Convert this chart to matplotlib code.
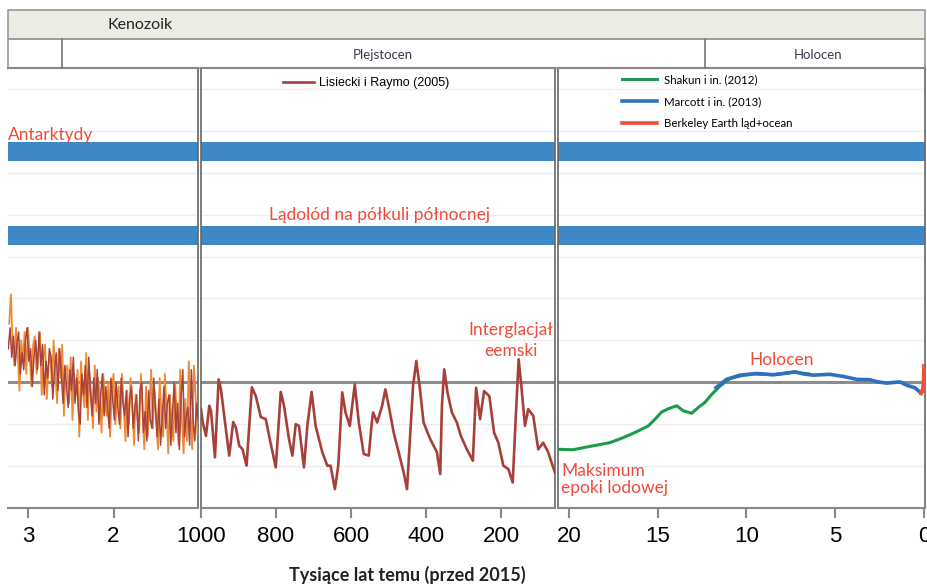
import numpy as np
import matplotlib.pyplot as plt
from matplotlib.patches import Rectangle

# ---- dane ----
# panel 1 (miliony lat temu)
p1_brown_myr = [3.23, 3.21, 3.19, 3.17, 3.15, 3.13, 3.11, 3.09, 3.07, 3.05,
                3.03, 3.01, 2.99, 2.97, 2.95, 2.93, 2.91, 2.89, 2.87, 2.85,
                2.83, 2.81, 2.79, 2.77, 2.75, 2.73, 2.71, 2.69, 2.67, 2.65,
                2.63, 2.61, 2.59, 2.57, 2.55, 2.53, 2.51, 2.49, 2.47, 2.45,
                2.43, 2.41, 2.39, 2.37, 2.35, 2.33, 2.31, 2.29, 2.27, 2.25,
                2.23, 2.21, 2.19, 2.17, 2.15, 2.13, 2.11, 2.09, 2.07, 2.05,
                2.03, 2.01, 1.99, 1.97, 1.95, 1.93, 1.91, 1.89, 1.87, 1.85,
                1.83, 1.81, 1.79, 1.77, 1.75, 1.73, 1.71, 1.69, 1.67, 1.65,
                1.63, 1.61, 1.59, 1.57, 1.55, 1.53, 1.51, 1.49, 1.47, 1.45,
                1.43, 1.41, 1.39, 1.37, 1.35, 1.33, 1.31, 1.29, 1.27, 1.25,
                1.23, 1.21, 1.19, 1.17, 1.15, 1.13, 1.11, 1.09, 1.07, 1.05,
                1.03, 1.01]
p1_brown_t = [0.8, 1.3, 0.6, 1.1, 0.4, 0.9, 1.2, 0.2, 0.7, 0.3,
              1.0, 1.3, 0.5, 0.8, -0.1, 0.6, 1.0, 0.3, 1.2, 0.4,
              0.9, -0.3, 0.5, 0.1, 0.8, 0.6, -0.4, 0.3, 0.7, -0.2,
              0.8, 0.2, -0.5, 0.4, -0.1, -0.6, 0.3, -0.2, 0.6, -0.5,
              0.1, -0.7, -1.0, 0.2, -0.3, 0.4, -0.6, 0.6, -0.2, -0.8,
              0.1, -0.5, 0.3, -1.0, -0.3, 0.2, -0.8, -0.1, -0.6, -1.1,
              0.1, -0.4, -0.9, 0.0, -0.6, -1.0, 0.1, -0.5, -0.8, -0.2,
              -1.3, -0.4, -0.1, -1.1, -0.6, -0.3, -1.4, -0.2, 0.0, -1.2,
              -0.7, -1.4, -0.2, -0.9, -1.1, 0.1, -0.6, -1.3, -0.4, -1.5,
              -0.8, -0.1, -1.1, -0.5, -0.3, -1.5, -0.7, 0.0, -1.2, -0.5,
              -1.6, -0.4, 0.3, -1.3, -0.8, -0.6, -1.5, 0.3, -0.9, -1.4,
              -0.5, -0.9]
p1_orange_myr = [3.22, 3.20, 3.18, 3.16, 3.14, 3.12, 3.10, 3.08, 3.06, 3.04,
                 3.02, 3.00, 2.98, 2.96, 2.94, 2.92, 2.90, 2.88, 2.86, 2.84,
                 2.82, 2.80, 2.78, 2.76, 2.74, 2.72, 2.70, 2.68, 2.66, 2.64,
                 2.62, 2.60, 2.58, 2.56, 2.54, 2.52, 2.50, 2.48, 2.46, 2.44,
                 2.42, 2.40, 2.38, 2.36, 2.34, 2.32, 2.30, 2.28, 2.26, 2.24,
                 2.22, 2.20, 2.18, 2.16, 2.14, 2.12, 2.10, 2.08, 2.06, 2.04,
                 2.02, 2.00, 1.98, 1.96, 1.94, 1.92, 1.90, 1.88, 1.86, 1.84,
                 1.82, 1.80, 1.78, 1.76, 1.74, 1.72, 1.70, 1.68, 1.66, 1.64,
                 1.62, 1.60, 1.58, 1.56, 1.54, 1.52, 1.50, 1.48, 1.46, 1.44,
                 1.42, 1.40, 1.38, 1.36, 1.34, 1.32, 1.30, 1.28, 1.26, 1.24,
                 1.22, 1.20, 1.18, 1.16, 1.14, 1.12, 1.10, 1.08, 1.06, 1.04,
                 1.02]
p1_orange_t = [1.4, 2.1, 0.9, 0.4, 1.3, 0.7, -0.2, 1.0, 0.5, 1.2,
               0.2, 1.3, 0.6, -0.1, 0.9, 1.1, 0.2, 0.7, 1.2, -0.3,
               0.6, 0.9, -0.4, 0.4, 0.7, -0.1, 1.0, 0.2, -0.5, 0.8,
               0.1, 0.9, -0.8, 0.3, 0.4, -0.5, 0.6, -0.9, 0.2, -0.3,
               0.3, -1.3, 0.5, -0.2, -0.6, 0.7, -0.9, 0.2, -0.4, -1.1,
               0.4, -0.7, 0.1, -0.3, -1.2, 0.2, -0.5, -0.8, 0.0, -1.3,
               -0.2, 0.2, -1.0, -0.4, -0.1, -1.1, 0.2, -0.6, -1.4, -0.2,
               -1.0, 0.1, -0.5, -1.5, -0.3, -0.9, -1.2, 0.2, -0.7, -1.6,
               -0.1, -1.3, -0.6, 0.3, -1.1, -0.2, -0.9, -1.6, 0.1, -0.8,
               -1.3, 0.2, -0.6, -1.7, -0.3, -1.0, -1.4, 0.0, -0.8, -1.5,
               0.3, -0.9, -1.7, -0.4, -1.4, 0.5, -0.7, -1.6, 0.4, -0.3,
               -1.2]

# panel 2 (tysiace lat temu) - Lisiecki i Raymo (2005)
lr_kyr = [1000, 995.5, 986.7, 977.9, 973.4, 962.8, 953.0, 946.8, 938.1, 924.8, 914.1, 907.0,
          898.2, 889.2, 878.5, 864.4, 853.8, 840.5, 827.2, 816.6, 800.6, 787.3, 778.6, 765.3,
          756.3, 747.5, 738.7, 725.4, 716.4, 705.0, 694.4, 676.5, 663.2, 654.5, 643.0, 634.0,
          623.4, 614.6, 603.2, 589.9, 579.2, 566.0, 552.7, 543.6, 541.0, 530.3, 517.0, 508.3,
          499.5, 486.2, 472.9, 459.6, 450.6, 441.8, 434.6, 425.8, 417.1, 406.5, 388.6, 370.8,
          362.1, 357.5, 351.4, 342.6, 331.0, 317.7, 307.0, 291.1, 275.1, 266.4, 255.7, 245.1,
          231.0, 218.5, 207.1, 193.8, 180.5, 168.8, 160.0, 152.9, 144.9, 136.1, 127.3, 114.0,
          100.7, 87.5, 74.2, 56.4]
lr_t = [-0.64, -0.95, -1.28, -0.56, -0.68, -1.79, 0.07, -0.17, -0.80, -1.75, -0.95, -1.08,
        -1.51, -1.60, -1.99, -0.12, -0.33, -0.83, -0.88, -1.36, -2.03, -0.23, -0.56, -1.36,
        -1.75, -1.00, -1.04, -2.03, -1.04, -0.23, -1.04, -1.67, -1.99, -1.99, -2.55, -1.99,
        -0.24, -0.72, -1.04, -0.05, -0.96, -1.71, -1.75, -0.88, -0.72, -0.96, -0.56, -0.17,
        -0.56, -1.20, -1.67, -2.15, -2.55, -1.20, -0.09, 0.51, -0.09, -0.96, -1.36, -1.67,
        -2.19, -0.56, 0.31, -0.25, -0.72, -0.96, -1.28, -1.60, -1.87, -0.13, -0.88, -0.21,
        -0.33, -1.20, -1.44, -1.99, -2.07, -2.39, -0.72, 0.55, -0.17, -1.04, -0.64, -0.80,
        -1.60, -1.44, -1.67, -2.15]

# panel 3 (tysiace lat temu)
shakun_kyr = [20.55, 19.76, 19.19, 18.44, 17.69, 16.94, 16.19, 15.53, 15.15, 14.78, 14.40, 13.93,
              13.56, 13.09, 12.71, 12.34, 11.96, 11.49, 10.93, 10.37, 9.62, 8.5, 7.3, 6.5]
shakun_t = [-1.60, -1.61, -1.56, -1.50, -1.44, -1.32, -1.18, -1.04, -0.88, -0.71, -0.63, -0.56,
            -0.68, -0.74, -0.60, -0.48, -0.29, -0.09, 0.09, 0.15, 0.20, 0.18, 0.24, 0.20]
marcott_kyr = [11.72, 11.12, 10.37, 9.43, 8.49, 7.90, 7.27, 6.80, 6.24, 5.30, 4.55, 3.79,
               3.04, 2.60, 2.10, 1.35, 0.97, 0.51, 0.19]
marcott_t = [-0.13, 0.07, 0.17, 0.21, 0.18, 0.21, 0.25, 0.20, 0.17, 0.19, 0.14, 0.07,
             0.06, 0.01, -0.02, 0.01, -0.07, -0.13, -0.25]
berkeley_kyr = [0.165, 0.12, 0.08, 0.05, 0.03, 0.01, 0.0]
berkeley_t = [-0.27, -0.20, -0.22, -0.10, 0.0, 0.20, 0.39]

ice_levels = [5.5, 3.5]   # Antarktyda, polkula polnocna

p1_ticks = [3, 2]
p2_ticks = [1000, 800, 600, 400, 200]
p3_ticks = [20, 15, 10, 5, 0]

red = '#EE4B3B'
W, H = 927, 584
fig = plt.figure(figsize=(W / 100, H / 100), dpi=100)


def panel(x0, x1, xlim):
    ax = fig.add_axes([x0 / W, (H - 508) / H, (x1 - x0) / W, 440 / H])
    ax.set_xlim(*xlim)
    ax.set_ylim(-3, 7.5)
    ax.set_yticks(range(-2, 8))
    ax.yaxis.grid(True, color='#eeeeee', lw=1)
    ax.set_axisbelow(True)
    ax.tick_params(axis='y', left=False, labelleft=False)
    ax.tick_params(axis='x', direction='out', length=7, width=1.5, color='#888888',
                   labelsize=16, pad=6)
    ax.spines['top'].set_color('#333333')
    ax.spines['top'].set_linewidth(1.5)
    ax.spines['bottom'].set_color('#888888')
    ax.spines['bottom'].set_linewidth(1.5)
    for s in ['left', 'right']:
        ax.spines[s].set_color('#666666')
        ax.spines[s].set_linewidth(1.2)
    ax.axhline(0, color='#8c8c8c', lw=2.2, zorder=1)
    lo, hi = min(xlim), max(xlim)
    ax.barh(ice_levels, [hi - lo] * 2, left=lo, height=0.46, color='#3E88C6', zorder=2)
    return ax


ax1 = panel(8, 198, (3.234, 1.012))
ax2 = panel(201, 555, (1000, 56))
ax3 = panel(558, 925, (20.62, -0.06))
ax1.spines['left'].set_visible(False)

ax1.plot(p1_orange_myr, p1_orange_t, color='#F08A32', lw=1.3, zorder=3)
ax1.plot(p1_brown_myr, p1_brown_t, color='#A8433C', lw=1.1, zorder=4)
ax1.set_xticks(p1_ticks)
ax1.set_xticklabels([str(t) for t in p1_ticks], family='Liberation Sans')

ax2.plot(lr_kyr, lr_t, color='#A6403B', lw=1.9, zorder=3, label='Lisiecki i Raymo (2005)')
ax2.set_xticks(p2_ticks)
ax2.set_xticklabels([str(t) for t in p2_ticks], family='Liberation Sans')
ax2.legend(loc='upper left', bbox_to_anchor=((283 - 201) / 354, 1 - 9 / 440), frameon=False,
           borderpad=0, borderaxespad=0, handlelength=2.5, handletextpad=0.4,
           prop={'family': 'Liberation Sans', 'size': 9})

ax3.plot(shakun_kyr, shakun_t, color='#1F9A4B', lw=2.2, zorder=3, label='Shakun i in. (2012)')
ax3.plot(marcott_kyr, marcott_t, color='#2F6FC0', lw=2.6, zorder=4, label='Marcott i in. (2013)')
ax3.plot(berkeley_kyr, berkeley_t, color='#F04E37', lw=2.6, zorder=5,
         label='Berkeley Earth ląd+ocean')
ax3.set_xticks(p3_ticks)
ax3.set_xticklabels([str(t) for t in p3_ticks], family='Liberation Sans')
ax3.legend(loc='upper left', bbox_to_anchor=((622 - 558) / 367, 1 - 6 / 440), frameon=False,
           borderpad=0, borderaxespad=0, handlelength=3.0, handletextpad=0.6,
           labelspacing=0.95, prop={'family': 'Lato', 'size': 8.3})

# naglowek i opisy (w pikselach)
ov = fig.add_axes([0, 0, 1, 1], zorder=10)
ov.set_xlim(0, W)
ov.set_ylim(H, 0)
ov.axis('off')
ov.patch.set_alpha(0)
ov.add_patch(Rectangle((8, 10), 917, 29, facecolor='#ECEBE4', edgecolor='#9a9a9a', lw=1.2))
ov.add_patch(Rectangle((8, 39), 917, 29, facecolor='none', edgecolor='#9a9a9a', lw=1.2))
ov.plot([62, 62], [39, 68], color='#777777', lw=1.2)
ov.plot([705, 705], [39, 68], color='#777777', lw=1.2)
ov.text(140, 25, 'Kenozoik', ha='center', va='center', fontsize=11.5, family='Lato', color='#222222')
ov.text(383, 55, 'Plejstocen', ha='center', va='center', fontsize=9.5, family='Lato', color='#3a3a4a')
ov.text(818, 55, 'Holocen', ha='center', va='center', fontsize=9.5, family='Lato', color='#3a3a4a')

tk = dict(color=red, family='Lato', fontsize=12.5, va='baseline')
ov.text(8, 140, 'Antarktydy', ha='left', **tk)
ov.text(380, 220, 'Lądolód na półkuli północnej', ha='center', **tk)
ov.text(511, 335, 'Interglacjał', ha='center', **tk)
ov.text(511, 356, 'eemski', ha='center', **tk)
ov.text(561, 476, 'Maksimum', ha='left', **tk)
ov.text(561, 493, 'epoki lodowej', ha='left', **tk)
ov.text(749, 365, 'Holocen', ha='left', **tk)
ov.text(407, 575, 'Tysiące lat temu (przed 2015)', ha='center', va='center',
        fontsize=13, family='Lato', fontweight='bold', color='#222222')

fig.savefig('out.png', dpi=100)
